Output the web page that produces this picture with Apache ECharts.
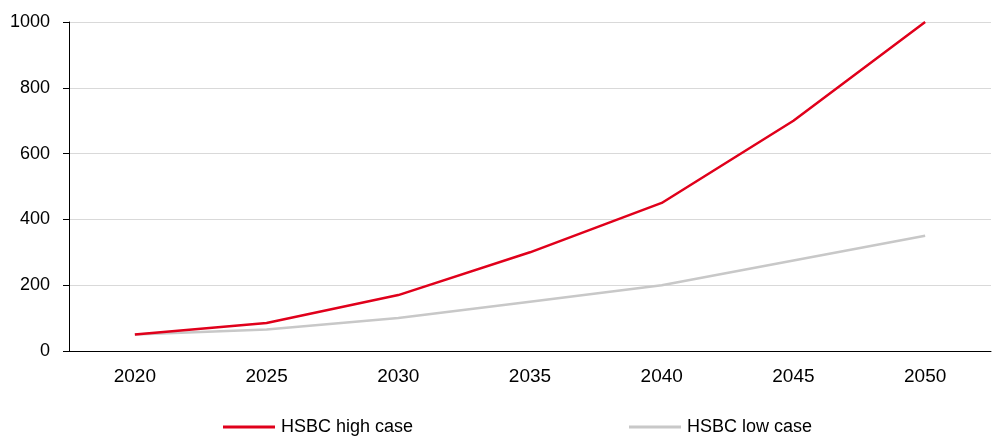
<!DOCTYPE html>
<html>
<head>
<meta charset="utf-8">
<script src="https://cdn.jsdelivr.net/npm/echarts@6/dist/echarts.min.js"></script>
<style>
  html, body { margin: 0; padding: 0; background: #fff; }
  #chart { width: 993px; height: 436px; }
</style>
</head>
<body>
<div id="chart"></div>
<script>
// Projection years and the two scenarios
const years = ['2020', '2025', '2030', '2035', '2040', '2045', '2050'];
const highCase = [50, 85, 170, 300, 450, 700, 1000];
const lowCase = [50, 65, 100, 150, 200, 275, 350];
const seriesNames = ['HSBC high case', 'HSBC low case'];
const colors = ['#e0001b', '#c8c8c8'];

const chart = echarts.init(document.getElementById('chart'));
const font = '"Liberation Sans", Arial, sans-serif';

// One legend per series so each entry sits at its own spot along the bottom
function legendFor(name, left) {
  return {
    data: [name],
    left: left,
    top: 418,
    padding: 0,
    itemWidth: 52,
    itemHeight: 3,
    itemGap: 0,
    icon: 'rect',
    textStyle: { fontFamily: font, fontSize: 18, color: '#000', padding: [0, 0, 0, 1] }
  };
}

chart.setOption({
  animation: false,
  grid: { left: 69, right: 2, top: 22, bottom: 85, containLabel: false },
  legend: [legendFor(seriesNames[0], 223), legendFor(seriesNames[1], 629)],
  xAxis: {
    type: 'category',
    data: years,
    boundaryGap: true,
    axisLine: { lineStyle: { color: '#000', width: 1 } },
    axisTick: { alignWithLabel: false, length: 6, lineStyle: { color: '#000' } },
    axisLabel: { fontFamily: font, fontSize: 19, color: '#000', margin: 16 },
    splitLine: { show: false }
  },
  yAxis: {
    type: 'value',
    min: 0,
    max: 1000,
    interval: 200,
    axisLine: { show: true, lineStyle: { color: '#000', width: 1 } },
    axisTick: { show: true, length: 6, lineStyle: { color: '#000' } },
    axisLabel: { fontFamily: font, fontSize: 18, color: '#000', margin: 19, formatter: (v) => String(v) },
    splitLine: { lineStyle: { color: '#d9d9d9', width: 1 } }
  },
  series: [
    {
      name: seriesNames[0],
      type: 'line',
      data: highCase,
      showSymbol: false,
      symbol: 'none',
      z: 3,
      lineStyle: { color: colors[0], width: 2.5 },
      itemStyle: { color: colors[0] }
    },
    {
      name: seriesNames[1],
      type: 'line',
      data: lowCase,
      showSymbol: false,
      symbol: 'none',
      z: 2,
      lineStyle: { color: colors[1], width: 2.5 },
      itemStyle: { color: colors[1] }
    }
  ]
});
</script>
</body>
</html>
